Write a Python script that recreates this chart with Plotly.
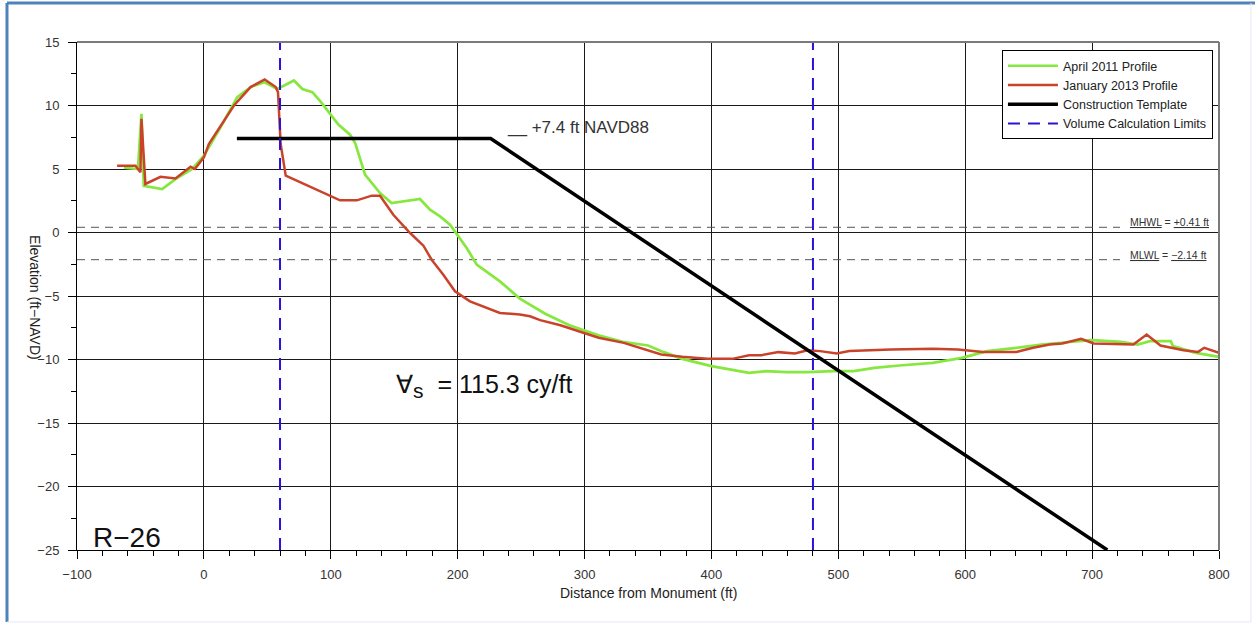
import plotly.graph_objects as go

# ---------------- data ----------------
green_x = [-63, -52, -49.2, -47.4, -32.9, -22.4, -9.2, 0, 13.2, 26.3, 36.8, 47.4, 57.9, 71, 77.6, 85.5, 92, 100,
           106, 115.2, 119.2, 127, 138.8, 148, 157.2, 170.3, 178.2, 186.1, 194, 200.5, 207.1, 215, 225.5, 233.3,
           249, 269, 288, 304, 311, 330, 350, 362, 377, 400, 429.6, 442.8, 459.3, 475.7, 495.5, 512, 528.4, 548.1,
           574.5, 597.5, 617.3, 640.3, 660, 679.8, 699.6, 722.6, 735.8, 745.6, 762, 763.7, 781.8, 800]
green_y = [5.1, 5.0, 9.34, 3.68, 3.42, 4.2, 5.0, 6.05, 8.3, 10.66, 11.45, 11.84, 11.3, 11.97, 11.3, 11.05, 10.3, 9.3,
           8.5, 7.7, 7.05, 4.55, 3.11, 2.32, 2.45, 2.64, 1.8, 1.27, 0.62, -0.3, -1.22, -2.53, -3.32, -3.85,
           -5.2, -6.4, -7.3, -7.9, -8.1, -8.6, -8.9, -9.4, -9.95, -10.52, -11.05, -10.92, -11.0, -11.0, -10.92, -10.92,
           -10.66, -10.47, -10.26, -9.87, -9.34, -9.08, -8.82, -8.64, -8.48, -8.61, -8.82, -8.56, -8.56, -8.95,
           -9.48, -9.79]

red_x = [-68.4, -53.9, -50, -49.2, -46.1, -34.2, -22.4, -10.5, -7.1, 0, 3.9, 13.2, 23.7, 36.8, 47.9, 56.6, 58.4,
         60.5, 64.5, 107.3, 120.5, 132.3, 138.8, 149.3, 162.5, 173, 179.5, 188.7, 197.9, 209.7, 233.3, 249, 257,
         265, 281, 296, 311.1, 330.9, 344, 360.5, 377, 396.7, 416.5, 429.6, 439.5, 452.7, 465.8, 475.7, 485.6,
         498.8, 508.6, 541.6, 574.5, 594.2, 614, 640.3, 653.5, 666.6, 676.5, 691.3, 701.2, 732.5, 743, 753.9,
         772, 783.5, 788.4, 800]
red_y = [5.26, 5.26, 4.74, 8.95, 3.82, 4.39, 4.26, 5.18, 5.0, 5.92, 6.97, 8.42, 10.0, 11.45, 12.05, 11.45, 11.05,
         6.97, 4.47, 2.53, 2.53, 2.9, 2.9, 1.4, -0.04, -1.04, -2.14, -3.32, -4.63, -5.42, -6.34, -6.45, -6.6,
         -6.9, -7.3, -7.8, -8.29, -8.69, -9.08, -9.61, -9.79, -9.95, -9.95, -9.66, -9.66, -9.42, -9.53, -9.27,
         -9.34, -9.53, -9.34, -9.21, -9.16, -9.21, -9.4, -9.4, -9.08, -8.82, -8.74, -8.37, -8.74, -8.82, -8.03,
         -8.9, -9.27, -9.4, -9.08, -9.48]

template_x = [26, 226, 712]
template_y = [7.4, 7.4, -25]

limit_x = [60, 480]
mhwl = 0.41
mlwl = -2.14
tide_x = [-100, 722]

x_ticks = [-100, 0, 100, 200, 300, 400, 500, 600, 700, 800]
y_ticks = [-25, -20, -15, -10, -5, 0, 5, 10, 15]

FONT = "Liberation Sans, Arial, sans-serif"

fig = go.Figure()

# tide reference lines
for lvl in (mhwl, mlwl):
    fig.add_trace(go.Scatter(x=tide_x, y=[lvl, lvl], mode="lines", showlegend=False, hoverinfo="skip",
                             line=dict(color="#555555", width=1, dash="8px,6px")))

fig.add_trace(go.Scatter(x=green_x, y=green_y, mode="lines", name="April 2011 Profile",
                         line=dict(color="#86e83e", width=2.7)))
fig.add_trace(go.Scatter(x=red_x, y=red_y, mode="lines", name="January 2013 Profile",
                         line=dict(color="#c9432a", width=2.5)))
fig.add_trace(go.Scatter(x=template_x, y=template_y, mode="lines", name="Construction Template",
                         line=dict(color="#000000", width=3.5)))

lx, ly = [], []
for v in limit_x:
    lx += [v, v, None]
    ly += [-25, 15, None]
fig.add_trace(go.Scatter(x=lx, y=ly, mode="lines", name="Volume Calculation Limits",
                         line=dict(color="#2a12d6", width=2, dash="12px,8px")))

axis_common = dict(
    showgrid=True, gridcolor="#1a1a1a", gridwidth=1,
    showline=True, linecolor="#000000", linewidth=1,
    ticks="outside", ticklen=8, tickcolor="#000000", tickwidth=1,
    tickfont=dict(family=FONT, size=13, color="#333333"),
    zeroline=False, mirror=False,
)

fig.update_xaxes(range=[-100, 800], tickvals=x_ticks, ticklabelstandoff=4,
                 minor=dict(dtick=20, ticks="outside", ticklen=5, tickcolor="#000000", showgrid=False),
                 **axis_common)
fig.update_yaxes(range=[-25, 15], tickvals=y_ticks, ticklabelstandoff=6,
                 minor=dict(dtick=2.5, ticks="outside", ticklen=5, tickcolor="#000000", showgrid=False),
                 **axis_common)

shapes = [
    # plot frame top/right (gray)
    dict(type="line", xref="paper", yref="paper", x0=0, x1=1, y0=1, y1=1, line=dict(color="#7a7a7a", width=2)),
    dict(type="line", xref="paper", yref="paper", x0=1, x1=1, y0=0, y1=1, line=dict(color="#7a7a7a", width=2)),
    # outer page frame
    dict(type="line", xref="paper", yref="paper", x0=-0.0613, x1=1.04, y0=1.0768, y1=1.0768,
         line=dict(color="#4f81bd", width=3)),
    dict(type="line", xref="paper", yref="paper", x0=-0.0613, x1=-0.0613, y0=-0.1417, y1=1.0768,
         line=dict(color="#4f81bd", width=3)),
    dict(type="line", xref="paper", yref="paper", x0=-0.0613, x1=1.028, y0=-0.1417, y1=-0.1417,
         line=dict(color="#e3e9f2", width=1)),
    dict(type="line", xref="paper", yref="paper", x0=1.028, x1=1.028, y0=-0.1417, y1=1.0768,
         line=dict(color="#e3e9f2", width=1)),
]

annotations = [
    dict(x=237, y=8.25, xref="x", yref="y", xanchor="left", yanchor="middle", showarrow=False,
         text="__ +7.4 ft NAVD88", font=dict(family=FONT, size=17, color="#333333")),
    dict(x=150, y=-12.1, xref="x", yref="y", xanchor="left", yanchor="middle", showarrow=False,
         text="\u2200<sub><span style='font-size:21px'>s</span></sub>\u00a0 = 115.3 cy/ft",
         font=dict(family=FONT, size=25, color="#111111")),
    dict(x=-89, y=-24.0, xref="x", yref="y", xanchor="left", yanchor="middle", showarrow=False,
         text="R\u221226", font=dict(family=FONT, size=28, color="#111111")),
    dict(x=728, y=mhwl, xref="x", yref="y", xanchor="left", yanchor="bottom", showarrow=False, yshift=-3,
         text="<u>MHWL</u> = <u>+0.41 ft</u>", font=dict(family=FONT, size=10.5, color="#333333")),
    dict(x=728, y=mlwl, xref="x", yref="y", xanchor="left", yanchor="bottom", showarrow=False, yshift=-3,
         text="<u>MLWL</u> = <u>\u22122.14 ft</u>", font=dict(family=FONT, size=10.5, color="#333333")),
    dict(x=-0.0368, y=0.496, xref="paper", yref="paper", xanchor="center", yanchor="middle", showarrow=False,
         textangle=90, text="Elevation (ft\u2212NAVD)", font=dict(family=FONT, size=14, color="#222222")),
    dict(x=0.5, y=-0.0846, xref="paper", yref="paper", xanchor="center", yanchor="middle", showarrow=False,
         text="Distance from Monument (ft)", font=dict(family=FONT, size=14, color="#222222")),
]

fig.update_layout(
    width=1255, height=625,
    margin=dict(l=77, r=36, t=42, b=75),
    paper_bgcolor="#ffffff", plot_bgcolor="#ffffff",
    font=dict(family=FONT, size=12, color="#222222"),
    shapes=shapes, annotations=annotations,
    legend=dict(x=0.9947, y=0.984, xanchor="right", yanchor="top",
                bgcolor="#ffffff", bordercolor="#000000", borderwidth=1,
                font=dict(family=FONT, size=12.5, color="#222222"),
                tracegroupgap=0, itemwidth=50),
    showlegend=True,
)

fig.write_html("out.html")
